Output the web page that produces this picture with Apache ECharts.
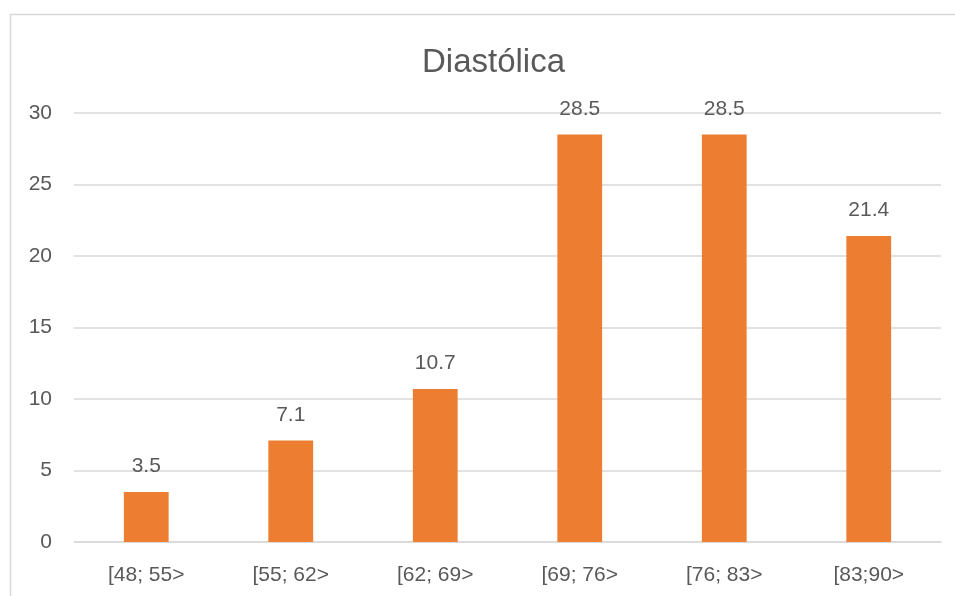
<!DOCTYPE html>
<html>
<head>
<meta charset="utf-8">
<script src="https://cdn.jsdelivr.net/npm/echarts@6/dist/echarts.min.js"></script>
<style>
  html, body { margin: 0; padding: 0; background: #fff; }
  #chart { width: 955px; height: 596px; }
</style>
</head>
<body>
<div id="chart"></div>
<script>
// Diastolic pressure ranges and their share (%)
const categories = ['[48; 55>', '[55; 62>', '[62; 69>', '[69; 76>', '[76; 83>', '[83;90>'];
const values = [3.5, 7.1, 10.7, 28.5, 28.5, 21.4];
const yTicks = { min: 0, max: 30, interval: 5 };

const FONT = 'Liberation Sans';
const TEXT = '#595959';

const chart = echarts.init(document.getElementById('chart'), null, { renderer: 'canvas' });
chart.setOption({
  backgroundColor: '#ffffff',
  animation: false,
  textStyle: { fontFamily: FONT },
  graphic: [{
    type: 'rect',
    shape: { x: 10.5, y: 14.5, width: 960, height: 600 },
    style: { fill: 'none', stroke: '#d9d9d9', lineWidth: 1.5 },
    silent: true
  }],
  title: {
    text: 'Diastólica',
    left: 417,
    top: 41,
    textStyle: { fontFamily: FONT, fontSize: 33, fontWeight: 'normal', color: TEXT }
  },
  grid: { left: 74, right: 14, top: 113, bottom: 54 },
  xAxis: {
    type: 'category',
    data: categories,
    axisLine: { show: true, lineStyle: { color: '#d9d9d9', width: 1.5 } },
    axisTick: { show: false },
    axisLabel: { color: TEXT, fontFamily: FONT, fontSize: 21, margin: 23 }
  },
  yAxis: {
    type: 'value',
    min: yTicks.min,
    max: yTicks.max,
    interval: yTicks.interval,
    axisLine: { show: false },
    axisTick: { show: false },
    splitLine: { lineStyle: { color: '#d9d9d9', width: 1.5 } },
    axisLabel: { color: TEXT, fontFamily: FONT, fontSize: 21, margin: 22 }
  },
  series: [{
    type: 'bar',
    data: values,
    barWidth: '31%',
    itemStyle: { color: '#ED7D31' },
    label: {
      show: true,
      position: 'top',
      distance: 15,
      color: TEXT,
      fontFamily: FONT,
      fontSize: 21
    }
  }]
});
</script>
</body>
</html>
